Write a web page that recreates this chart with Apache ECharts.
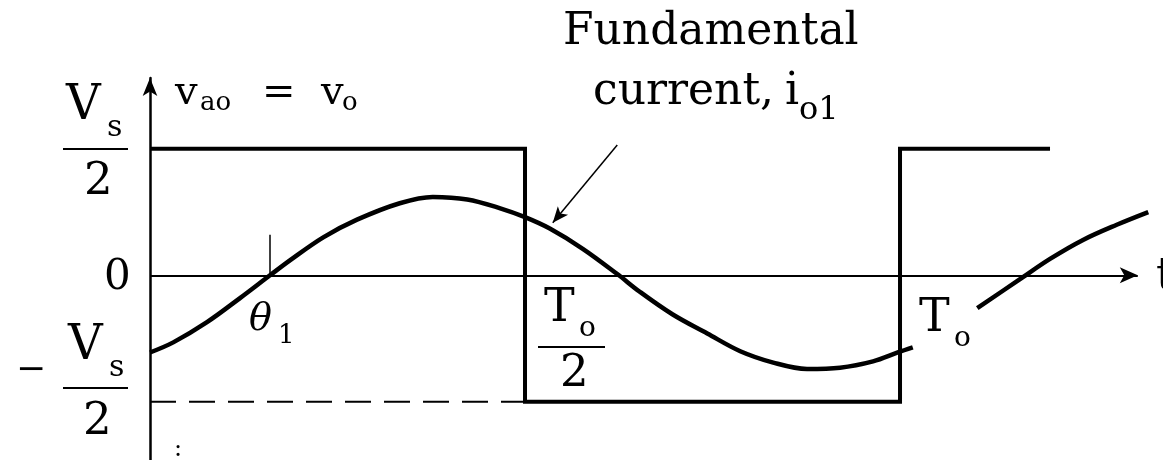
<!DOCTYPE html>
<html>
<head>
<meta charset="utf-8">
<script src="https://cdn.jsdelivr.net/npm/echarts@6/dist/echarts.min.js"></script>
<style>
  html, body { margin: 0; padding: 0; background: #fff; }
  #chart { width: 1163px; height: 460px; }
</style>
</head>
<body>
<div id="chart"></div>
<script>
// time in units of T_o, voltage/current in units of Vs/2
const squareT = [0, 0.5, 0.5, 1, 1, 1.2]
const squareV = [1, 1, -1, -1, 1, 1]

const dashT = [0, 0.5]
const dashV = [-1, -1]

// fundamental current, first period
const currentT1 = [0, 0.031, 0.076, 0.12, 0.16, 0.187, 0.231, 0.276, 0.333, 0.377, 0.423, 0.467, 0.5, 0.533,
  0.577, 0.623, 0.653, 0.697, 0.743, 0.787, 0.831, 0.876, 0.92, 0.964, 0.997, 1.017]
const currentI1 = [-0.61, -0.53, -0.37, -0.18, 0, 0.12, 0.3, 0.44, 0.57, 0.62, 0.6, 0.53, 0.46, 0.37,
  0.21, 0.01, -0.13, -0.31, -0.46, -0.6, -0.69, -0.74, -0.73, -0.68, -0.61, -0.57]
// fundamental current, after the T_o label
const currentT2 = [1.103, 1.16, 1.2, 1.244, 1.289, 1.331]
const currentI2 = [-0.26, -0.03, 0.13, 0.28, 0.4, 0.5]

const theta1 = 0.159

const zip = (xs, ys) => xs.map((x, i) => [x, ys[i]])

const FONT = '"DejaVu Serif", serif'
const txt = (str, x, base, size, extra) => ({
  type: 'text',
  x: x,
  y: base - 0.34 * size,
  silent: true,
  style: Object.assign({
    text: str,
    font: size + 'px ' + FONT,
    fill: '#000',
    textAlign: 'left',
    verticalAlign: 'middle'
  }, extra || {})
})
const bar = (x1, x2, y) => ({
  type: 'line',
  silent: true,
  shape: { x1: x1, y1: y, x2: x2, y2: y },
  style: { stroke: '#000', lineWidth: 2 }
})

const chart = echarts.init(document.getElementById('chart'), null, { renderer: 'canvas' })

chart.setOption({
  animation: false,
  backgroundColor: '#fff',
  grid: { left: 150, right: 13, top: 78, bottom: 0 },
  xAxis: {
    type: 'value',
    min: 0,
    max: 1.3333,
    show: false
  },
  yAxis: {
    type: 'value',
    min: -1.46,
    max: 1.56,
    axisLine: {
      show: true,
      onZero: false,
      symbol: ['none', 'arrow'],
      symbolSize: [11, 18],
      lineStyle: { color: '#000', width: 2.5 }
    },
    axisTick: { show: false },
    axisLabel: { show: false },
    splitLine: { show: false }
  },
  series: [
    {
      name: 'axis',
      type: 'line',
      data: [],
      silent: true,
      markLine: {
        silent: true,
        animation: false,
        label: { show: false },
        symbol: ['none', 'arrow'],
        symbolSize: [12, 18],
        lineStyle: { color: '#000', width: 2.2, type: 'solid' },
        data: [
          [{ coord: [0, 0] }, { coord: [1.317, 0] }],
          [{ coord: [0.623, 1.03], symbol: 'none', lineStyle: { width: 1.5 } },
           { coord: [0.537, 0.415], symbol: 'arrow', symbolSize: [10, 16] }],
          [{ coord: [theta1, 0], symbol: 'none', lineStyle: { width: 1.5 } },
           { coord: [theta1, 0.32], symbol: 'none' }]
        ]
      }
    },
    {
      name: 'v_o',
      type: 'line',
      data: zip(squareT, squareV),
      showSymbol: false,
      silent: true,
      lineStyle: { color: '#000', width: 4, join: 'miter' }
    },
    {
      name: 'dash',
      type: 'line',
      data: zip(dashT, dashV),
      showSymbol: false,
      silent: true,
      lineStyle: { color: '#000', width: 2, type: [26, 13] }
    },
    {
      name: 'i_o1',
      type: 'line',
      data: zip(currentT1, currentI1),
      smooth: 0.35,
      showSymbol: false,
      silent: true,
      lineStyle: { color: '#000', width: 4.5 }
    },
    {
      name: 'i_o1 b',
      type: 'line',
      data: zip(currentT2, currentI2),
      smooth: 0.35,
      showSymbol: false,
      silent: true,
      lineStyle: { color: '#000', width: 4.5 }
    }
  ],
  graphic: [
    // top-right annotation
    txt('Fundamental', 563, 48, 44),
    txt('current,', 593, 108, 44),
    txt('i', 785, 108, 44),
    txt('o1', 799, 122, 32),
    // y-axis title
    txt('v', 175, 107, 40),
    txt('ao', 200, 112, 26),
    txt('=', 262, 107, 40),
    txt('v', 321, 107, 40),
    txt('o', 342, 112, 26),
    // +Vs/2
    txt('V', 66, 123, 48),
    txt('s', 107, 138, 30),
    bar(63, 128, 149),
    txt('2', 84, 198, 45),
    // 0
    txt('0', 104, 292, 42),
    // -Vs/2
    txt('−', 16, 383, 36),
    txt('V', 68, 363, 48),
    txt('s', 109, 378, 30),
    bar(63, 128, 388),
    txt('2', 83, 438, 45),
    txt(':', 174, 458, 24),
    // theta_1
    txt('θ', 249, 333, 38, { font: 'italic 38px ' + FONT }),
    txt('1', 278, 345, 26),
    // T_o / 2
    txt('T', 544, 325, 46),
    txt('o', 579, 338, 28),
    bar(538, 605, 347),
    txt('2', 560, 390, 45),
    // T_o
    txt('T', 919, 335, 46),
    txt('o', 954, 348, 28),
    // t
    txt('t', 1156, 293, 44)
  ]
})
</script>
</body>
</html>
